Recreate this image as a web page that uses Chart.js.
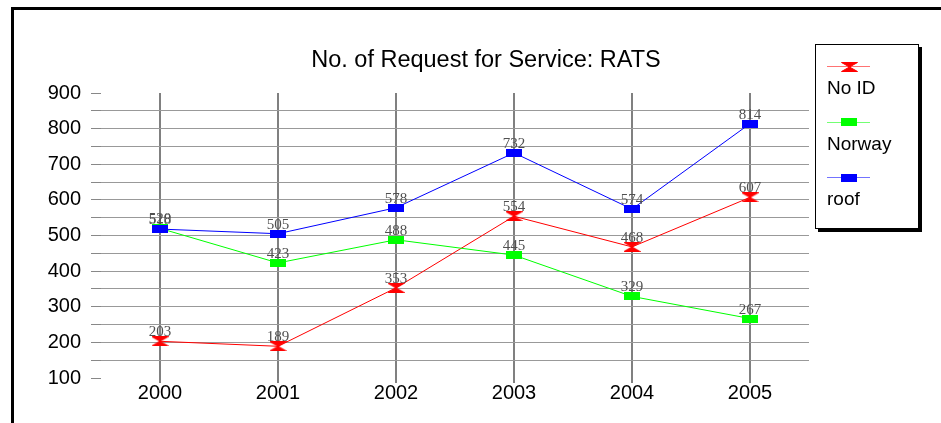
<!DOCTYPE html>
<html>
<head>
<meta charset="utf-8">
<script src="https://cdn.jsdelivr.net/npm/chart.js@4.4.1/dist/chart.umd.min.js"></script>
<style>
  html, body { margin: 0; padding: 0; background: #fff; }
  #wrap { width: 941px; height: 423px; }
</style>
</head>
<body>
<div id="wrap"><canvas id="chart" width="941" height="423"></canvas></div>
<script>
"use strict";

const years = ['2000', '2001', '2002', '2003', '2004', '2005'];
const noId = [203, 189, 353, 554, 468, 607];
const norway = [520, 423, 488, 445, 329, 267];
const roof = [518, 505, 578, 732, 574, 814];

const TITLE = 'No. of Request for Service: RATS';

// little canvases used as point markers
function rectMarker(color) {
  const c = document.createElement('canvas');
  c.width = 16; c.height = 8;
  const g = c.getContext('2d');
  g.fillStyle = color;
  g.fillRect(0, 0, 16, 8);
  return c;
}

function hourglassMarker(color) {
  const c = document.createElement('canvas');
  c.width = 17; c.height = 10;
  const g = c.getContext('2d');
  g.fillStyle = color;
  g.strokeStyle = color;
  g.beginPath();
  g.moveTo(0.5, 0.5); g.lineTo(16.5, 0.5); g.lineTo(8.5, 5);
  g.lineTo(16.5, 9.5); g.lineTo(0.5, 9.5); g.lineTo(8.5, 5);
  g.closePath();
  g.fill();
  g.stroke();
  return c;
}

const whiteBg = {
  id: 'whiteBg',
  beforeDraw(chart) {
    const ctx = chart.ctx;
    ctx.save();
    ctx.fillStyle = '#fff';
    ctx.fillRect(0, 0, chart.width, chart.height);
    ctx.restore();
  }
};

const valueLabels = {
  id: 'valueLabels',
  afterDatasetsDraw(chart) {
    const ctx = chart.ctx;
    ctx.save();
    ctx.font = '15px "Liberation Serif", "DejaVu Serif", serif';
    ctx.fillStyle = '#505050';
    ctx.textAlign = 'center';
    ctx.textBaseline = 'alphabetic';
    chart.data.datasets.forEach((ds, i) => {
      chart.getDatasetMeta(i).data.forEach((pt, j) => {
        ctx.fillText(String(ds.data[j]), pt.x, pt.y - 5);
      });
    });
    ctx.restore();
  }
};

const frameAndLegend = {
  id: 'frameAndLegend',
  afterDraw(chart) {
    const ctx = chart.ctx;
    ctx.save();

    // outer frame (right and bottom edges are off-canvas)
    ctx.strokeStyle = '#000';
    ctx.lineWidth = 3;
    ctx.strokeRect(12.5, 8.5, 1000, 1000);

    // title
    ctx.fillStyle = '#000';
    ctx.font = '23.5px "Liberation Sans", Arial, sans-serif';
    ctx.textAlign = 'center';
    ctx.textBaseline = 'alphabetic';
    ctx.fillText(TITLE, 486, 67);

    // legend box with shadow
    ctx.fillStyle = '#000';
    ctx.fillRect(818, 47, 104, 185);
    ctx.fillStyle = '#fff';
    ctx.fillRect(815, 44, 104, 185);
    ctx.lineWidth = 1;
    ctx.strokeStyle = '#000';
    ctx.strokeRect(815.5, 44.5, 103, 184);

    ctx.font = '19px "Liberation Sans", Arial, sans-serif';
    ctx.textAlign = 'left';
    ctx.textBaseline = 'middle';
    chart.data.datasets.forEach((ds, i) => {
      const ly = 66 + i * 55.5;
      ctx.globalAlpha = 0.55;
      ctx.strokeStyle = ds.borderColor;
      ctx.beginPath();
      ctx.moveTo(827, Math.round(ly) + 0.5);
      ctx.lineTo(870, Math.round(ly) + 0.5);
      ctx.stroke();
      ctx.globalAlpha = 1;
      const m = ds.pointStyle;
      ctx.drawImage(m, Math.round(849 - m.width / 2), Math.round(ly + 0.5 - m.height / 2));
      ctx.fillStyle = '#000';
      ctx.fillText(ds.label, 827, ly + 23);
    });

    ctx.restore();
  }
};

const datasets = [
  { label: 'No ID', data: noId, borderColor: '#ff0000', pointStyle: hourglassMarker('#ff0000'), order: 3 },
  { label: 'Norway', data: norway, borderColor: '#00ff00', pointStyle: rectMarker('#00ff00'), order: 2 },
  { label: 'roof', data: roof, borderColor: '#0000ff', pointStyle: rectMarker('#0000ff'), order: 1 }
].map(d => Object.assign(d, { borderWidth: 1, backgroundColor: d.borderColor, tension: 0, pointRadius: 8 }));

const config = {
  type: 'line',
  data: { labels: years, datasets: datasets },
  options: {
    responsive: false,
    animation: false,
    layout: { padding: { left: 14, right: 132, top: 93, bottom: 0 } },
    plugins: {
      legend: { display: false },
      title: { display: false },
      tooltip: { enabled: false }
    },
    scales: {
      x: {
        offset: true,
        grid: { offset: false, color: '#808080', lineWidth: 2, tickLength: 5, tickColor: '#808080' },
        border: { display: false },
        ticks: {
          color: '#000',
          padding: -2,
          font: { size: 20, family: '"Liberation Sans", Arial, sans-serif' }
        },
        afterFit: (s) => { s.height = 45; }
      },
      y: {
        min: 100,
        max: 900,
        grid: {
          color: (c) => (c.tick && (c.tick.value === 900 || c.tick.value === 100)) ? 'rgba(0,0,0,0)' : '#999',
          tickColor: '#888',
          tickLength: 10
        },
        border: { display: false },
        ticks: {
          stepSize: 50,
          autoSkip: false,
          color: '#000',
          padding: 10,
          font: { size: 20, family: '"Liberation Sans", Arial, sans-serif' },
          callback: (v) => (v % 100 === 0 ? String(v) : '')
        },
        afterFit: (s) => { s.width = 87; }
      }
    }
  },
  plugins: [whiteBg, valueLabels, frameAndLegend]
};

new Chart(document.getElementById('chart'), config);
</script>
</body>
</html>
